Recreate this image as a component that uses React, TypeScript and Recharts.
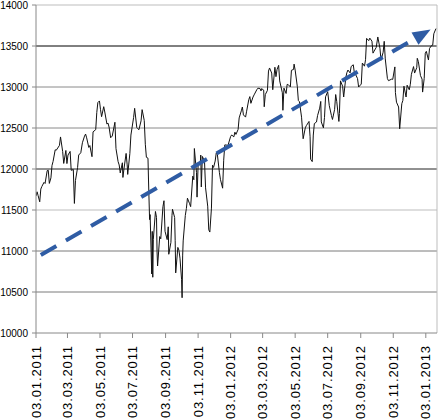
import { LineChart, Line, XAxis, YAxis, ReferenceLine } from 'recharts'

// index closes (one line per month)
const dates = [
  '2011-01-03', '2011-01-05', '2011-01-07', '2011-01-10', '2011-01-12', '2011-01-14', '2011-01-18', '2011-01-20', '2011-01-24', '2011-01-26', '2011-01-28', '2011-01-31',
  '2011-02-02', '2011-02-04', '2011-02-08', '2011-02-10', '2011-02-14', '2011-02-16', '2011-02-18', '2011-02-22', '2011-02-24', '2011-02-28',
  '2011-03-02', '2011-03-04', '2011-03-08', '2011-03-10', '2011-03-14', '2011-03-16', '2011-03-18', '2011-03-22', '2011-03-24', '2011-03-28', '2011-03-31',
  '2011-04-04', '2011-04-06', '2011-04-08', '2011-04-12', '2011-04-14', '2011-04-18', '2011-04-20', '2011-04-25', '2011-04-27', '2011-04-29',
  '2011-05-02', '2011-05-04', '2011-05-06', '2011-05-10', '2011-05-12', '2011-05-16', '2011-05-18', '2011-05-20', '2011-05-23', '2011-05-26', '2011-05-31',
  '2011-06-02', '2011-06-06', '2011-06-08', '2011-06-10', '2011-06-14', '2011-06-15', '2011-06-17', '2011-06-21', '2011-06-23', '2011-06-24', '2011-06-28', '2011-06-30',
  '2011-07-05', '2011-07-07', '2011-07-11', '2011-07-13', '2011-07-15', '2011-07-19', '2011-07-21', '2011-07-25', '2011-07-27', '2011-07-29',
  '2011-08-01', '2011-08-02', '2011-08-04', '2011-08-05', '2011-08-08', '2011-08-09', '2011-08-10', '2011-08-11', '2011-08-15', '2011-08-17', '2011-08-18', '2011-08-19', '2011-08-23', '2011-08-25', '2011-08-29', '2011-08-31',
  '2011-09-02', '2011-09-06', '2011-09-08', '2011-09-09', '2011-09-13', '2011-09-15', '2011-09-16', '2011-09-20', '2011-09-21', '2011-09-22', '2011-09-26', '2011-09-28', '2011-09-30',
  '2011-10-03', '2011-10-04', '2011-10-05', '2011-10-06', '2011-10-10', '2011-10-12', '2011-10-14', '2011-10-18', '2011-10-20', '2011-10-24', '2011-10-26', '2011-10-27', '2011-10-31',
  '2011-11-01', '2011-11-03', '2011-11-07', '2011-11-08', '2011-11-09', '2011-11-11', '2011-11-15', '2011-11-17', '2011-11-21', '2011-11-23', '2011-11-25', '2011-11-28', '2011-11-30',
  '2011-12-02', '2011-12-05', '2011-12-07', '2011-12-09', '2011-12-13', '2011-12-15', '2011-12-19', '2011-12-21', '2011-12-23', '2011-12-27', '2011-12-29',
  '2012-01-03', '2012-01-05', '2012-01-09', '2012-01-11', '2012-01-13', '2012-01-17', '2012-01-19', '2012-01-23', '2012-01-25', '2012-01-27', '2012-01-31',
  '2012-02-02', '2012-02-06', '2012-02-08', '2012-02-10', '2012-02-14', '2012-02-16', '2012-02-21', '2012-02-23', '2012-02-27', '2012-02-29',
  '2012-03-01', '2012-03-05', '2012-03-06', '2012-03-08', '2012-03-12', '2012-03-14', '2012-03-16', '2012-03-20', '2012-03-22', '2012-03-26', '2012-03-28', '2012-03-30',
  '2012-04-02', '2012-04-04', '2012-04-09', '2012-04-10', '2012-04-12', '2012-04-16', '2012-04-18', '2012-04-20', '2012-04-24', '2012-04-26', '2012-04-30',
  '2012-05-01', '2012-05-03', '2012-05-07', '2012-05-09', '2012-05-11', '2012-05-15', '2012-05-18', '2012-05-22', '2012-05-24', '2012-05-29', '2012-05-31',
  '2012-06-01', '2012-06-04', '2012-06-06', '2012-06-08', '2012-06-12', '2012-06-14', '2012-06-18', '2012-06-20', '2012-06-21', '2012-06-25', '2012-06-27', '2012-06-29',
  '2012-07-03', '2012-07-06', '2012-07-10', '2012-07-12', '2012-07-16', '2012-07-18', '2012-07-20', '2012-07-24', '2012-07-25', '2012-07-27', '2012-07-31',
  '2012-08-02', '2012-08-06', '2012-08-08', '2012-08-10', '2012-08-14', '2012-08-16', '2012-08-20', '2012-08-22', '2012-08-24', '2012-08-28', '2012-08-30',
  '2012-09-04', '2012-09-06', '2012-09-10', '2012-09-12', '2012-09-14', '2012-09-18', '2012-09-20', '2012-09-24', '2012-09-26', '2012-09-28',
  '2012-10-02', '2012-10-05', '2012-10-09', '2012-10-11', '2012-10-15', '2012-10-17', '2012-10-19', '2012-10-23', '2012-10-25', '2012-10-31',
  '2012-11-02', '2012-11-06', '2012-11-07', '2012-11-09', '2012-11-13', '2012-11-15', '2012-11-19', '2012-11-21', '2012-11-23', '2012-11-27', '2012-11-29',
  '2012-12-03', '2012-12-05', '2012-12-07', '2012-12-11', '2012-12-13', '2012-12-17', '2012-12-18', '2012-12-20', '2012-12-24', '2012-12-27', '2012-12-28', '2012-12-31',
  '2013-01-02', '2013-01-04', '2013-01-08', '2013-01-10', '2013-01-14', '2013-01-16', '2013-01-18', '2013-01-22',
]

const closes = [
  11671, 11722, 11675, 11600, 11755, 11787, 11837, 11823, 11980, 11985, 11824, 11892,
  12042, 12092, 12234, 12229, 12268, 12288, 12391, 12213, 12068, 12226,
  12066, 12170, 12214, 11984, 11993, 11580, 11859, 12018, 12170, 12198, 12320,
  12401, 12426, 12380, 12263, 12286, 12150, 12453, 12480, 12690, 12810,
  12830, 12723, 12638, 12760, 12695, 12548, 12560, 12512, 12381, 12402, 12570,
  12248, 12089, 12049, 11952, 12076, 11897, 12004, 12190, 12050, 11934, 12188, 12414,
  12626, 12740, 12505, 12491, 12479, 12587, 12724, 12592, 12302, 12143,
  12132, 11866, 11383, 11444, 10720, 11239, 10680, 11143, 11482, 11410, 10990, 10817, 11176, 11149, 11539, 11613,
  11240, 11139, 11295, 10960, 11105, 11433, 11509, 11408, 11125, 10733, 11044, 11011, 10913,
  10655, 10430, 10940, 11123, 11433, 11519, 11644, 11577, 11541, 11913, 11869, 12250, 11955,
  11657, 12044, 12068, 12170, 11781, 12153, 12096, 11770, 11547, 11258, 11231, 11523, 12046,
  12019, 12097, 12196, 12184, 11955, 11869, 11766, 12107, 12294, 12291, 12287,
  12397, 12415, 12392, 12449, 12422, 12482, 12623, 12709, 12756, 12660, 12633,
  12705, 12845, 12883, 12801, 12878, 12904, 12966, 12985, 12982, 12952,
  12980, 12962, 12759, 12907, 12959, 13194, 13232, 13170, 12967, 13241, 13126, 13212,
  13264, 13074, 12929, 12716, 12986, 12921, 13032, 13029, 13001, 13204, 13214,
  13279, 13206, 13008, 12835, 12821, 12632, 12369, 12502, 12529, 12580, 12393,
  12119, 12090, 12414, 12554, 12573, 12651, 12742, 12824, 12574, 12502, 12627, 12880,
  12943, 12772, 12653, 12604, 12727, 12908, 12822, 12580, 12676, 13075, 13009,
  12878, 13117, 13175, 13207, 13172, 13250, 13271, 13173, 13158, 13102, 13000,
  13036, 13292, 13254, 13333, 13593, 13565, 13596, 13559, 13413, 13437,
  13482, 13610, 13473, 13326, 13424, 13557, 13343, 13103, 13077, 13096,
  13093, 13245, 12932, 12815, 12756, 12490, 12796, 12836, 13010, 12878, 13022,
  12966, 13034, 13155, 13249, 13170, 13235, 13350, 13311, 13139, 13096, 12938, 13104,
  13412, 13435, 13329, 13471, 13507, 13511, 13649, 13712,
]

const yTicks = [10000, 10500, 11000, 11500, 12000, 12500, 13000, 13500, 14000]
const xTickDates = [
  '2011-01-03', '2011-03-03', '2011-05-03', '2011-07-03', '2011-09-03', '2011-11-03',
  '2012-01-03', '2012-03-03', '2012-05-03', '2012-07-03', '2012-09-03', '2012-11-03',
  '2013-01-03',
]
const xRange = ['2011-01-03', '2013-01-24']

// dashed trend arrow
const trendDates = ['2011-01-12', '2013-01-12']
const trendValues = [10950, 13700]

const toDay = (s: string) => {
  const [y, m, d] = s.split('-').map(Number)
  return Date.UTC(y, m - 1, d) / 86400000
}

const fmtDay = (t: number) => {
  const d = new Date(t * 86400000)
  const p = (n: number) => String(n).padStart(2, '0')
  return `${p(d.getUTCDate())}.${p(d.getUTCMonth() + 1)}.${d.getUTCFullYear()}`
}

const data = dates.map((d, i) => ({ t: toDay(d), close: closes[i] }))

const gridStroke: Record<number, string> = {
  10500: '#7a7a7a',
  11000: '#7a7a7a',
  11500: '#bdbdbd',
  12000: '#222',
  12500: '#8a8a8a',
  13000: '#8a8a8a',
  13500: '#000',
  14000: '#bdbdbd',
}

const FONT = '"Liberation Sans", Arial, sans-serif'

const DateTick = ({ x, y, payload }: any) => (
  <text
    x={0}
    y={0}
    transform={`translate(${x},${y + 5}) rotate(-90)`}
    textAnchor="end"
    dy="0.36em"
    fontSize={13}
    letterSpacing={0.9}
    fontFamily={FONT}
    fill="#000"
  >
    {fmtDay(payload.value)}
  </text>
)

const TrendArrow = (props: any) => {
  const { x1, y1, x2, y2 } = props
  const dx = x2 - x1
  const dy = y2 - y1
  const len = Math.hypot(dx, dy)
  const ux = dx / len
  const uy = dy / len
  const head = 18
  const half = 7
  const bx = x2 - ux * head
  const by = y2 - uy * head
  return (
    <g>
      <line x1={x1} y1={y1} x2={bx + ux * 2} y2={by + uy * 2} stroke="#2f5ca4" strokeWidth={4} strokeDasharray="18 11" />
      <polygon
        points={`${x2},${y2} ${bx - uy * half},${by + ux * half} ${bx + uy * half},${by - ux * half}`}
        fill="#2f5ca4"
      />
    </g>
  )
}

export default function App() {
  const [t0, t1] = xRange.map(toDay)

  return (
    <div style={{ position: 'absolute', left: 0, top: 0, width: 438, height: 420, background: '#fff' }}>
      <LineChart width={438} height={420} data={data} margin={{ top: 5, right: 1, bottom: 0, left: 0 }}>
        {yTicks
          .filter((v) => gridStroke[v])
          .map((v) => (
            <ReferenceLine key={v} y={v} stroke={gridStroke[v]} strokeWidth={1} />
          ))}
        <ReferenceLine x={t1} stroke="#bdbdbd" />
        <XAxis
          dataKey="t"
          type="number"
          domain={[t0, t1]}
          ticks={xTickDates.map(toDay)}
          interval={0}
          allowDataOverflow
          height={87}
          tickSize={5}
          tick={<DateTick />}
          axisLine={{ stroke: '#888' }}
          tickLine={{ stroke: '#888' }}
        />
        <YAxis
          type="number"
          domain={[10000, 14000]}
          ticks={yTicks}
          interval={0}
          width={36}
          tickSize={4}
          tickMargin={4}
          tick={{ fill: '#000', fontSize: 10, fontFamily: FONT }}
          axisLine={{ stroke: '#888' }}
          tickLine={{ stroke: '#888' }}
        />
        <Line
          dataKey="close"
          type="linear"
          stroke="#111"
          strokeWidth={1}
          dot={false}
          isAnimationActive={false}
        />
        <ReferenceLine
          segment={[
            { x: toDay(trendDates[0]), y: trendValues[0] },
            { x: toDay(trendDates[1]), y: trendValues[1] },
          ]}
          shape={TrendArrow}
        />
      </LineChart>
    </div>
  )
}
